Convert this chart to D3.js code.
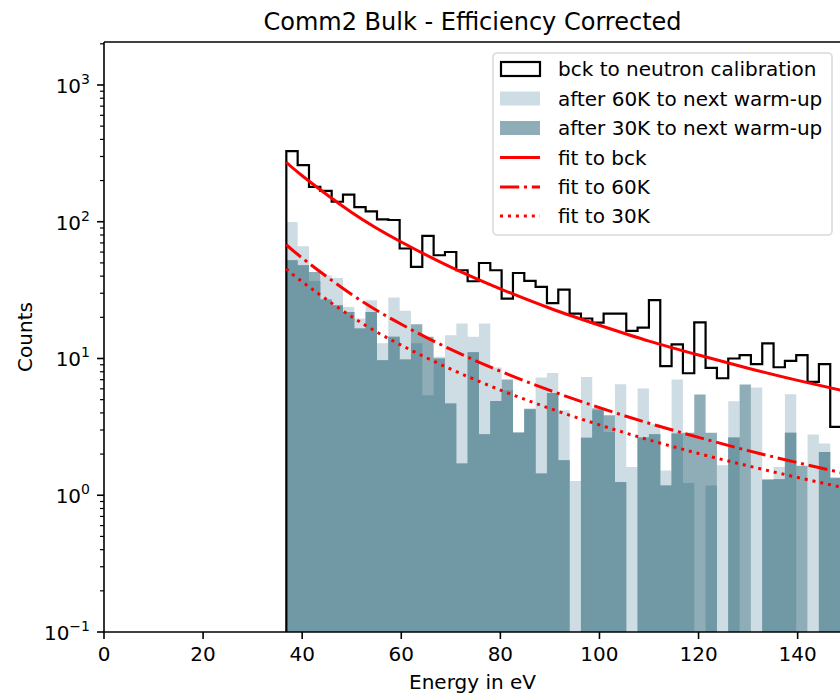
<!DOCTYPE html>
<html><head><meta charset="utf-8">
<script src="https://cdn.jsdelivr.net/npm/d3@7"></script>
<style>body{margin:0;background:#fff} text{font-family:"DejaVu Sans",sans-serif;fill:#000}</style>
</head><body><svg id="c" width="840" height="693"></svg>
<script>
// ---- data ----
const binStart = 36.8, binWidth = 2.287;
const bck = [328,259,180,168,140,158,128,119,104,103, 63.7,46.7,78.7,56.9,60.1,44.2,36.7,49.9,44.2,27.4,
  42.2,36.9,33.4,25.4,31.9,21.3,19.6,18.3,21.3,21.3, 15.9,16.8,26.7,8.78,12.7,7.80,18.4,8.53,7.17,10.0,
  10.6,9.08,12.9,8.63,9.60,10.6,6.74,9.08,3.16];
const v60 = [99.7,66.2,36.9,40.6,38.8,23.8,19.6,26.7,12.9,27.9, 22.3,12.9,5.39,10.3,14.8,18.0,14.4,18.0,8.59,5.86,
  2.85,4.33,7.26,7.84,4.18,1.27,7.33,4.18,2.90,6.48, 1.61,6.03,3.31,1.52,7.02,1.23,0,1.18,1.66,4.87,
  0,6.13,1.31,1.61,5.48,0,2.78,2.39,1.36];
const v30 = [52.3,48.1,42.9,27.0,24.5,21.9,16.6,21.9,9.71,14.4, 9.82,17.8,14.4,10.0,4.68,1.71,11.1,2.79,4.89,7.02,
  2.89,4.25,1.44,5.60,1.80,0,2.63,4.33,3.85,1.25, 0,2.64,2.79,1.18,2.83,2.87,5.45,2.87,0,2.64,
  6.45,0,1.30,1.31,2.87,1.64,0,2.07,1.33];
const fitE   = [36.8,40,50,60,70,80,90,100,110,120,130,140,150];
const fitBck = [272,217,117,71.1,46.6,32.3,23.3,17.5,13.4,10.6,8.49,6.92,5.72];
const fit60  = [68.0,54.3,29.4,17.8,11.65,8.07,5.84,4.37,3.36,2.65,2.12,1.73,1.43];
const fit30  = [45.2,36.4,20.2,12.5,8.36,5.88,4.31,3.27,2.54,2.02,1.64,1.35,1.12];
const xTicks = [0,20,40,60,80,100,120,140];
const yTicks = [0.1,1,10,100,1000];
const yTickExp = ["\u22121","0","1","2","3"];
const labels = ["bck to neutron calibration","after 60K to next warm-up","after 30K to next warm-up","fit to bck","fit to 60K","fit to 30K"];

// ---- layout ----
const m = {l:104, t:42, r:841, b:632};
const x = d3.scaleLinear().domain([0,148.75]).range([m.l,m.r]);
const y = d3.scaleLog().domain([0.1,2062]).range([m.b,m.t]);
const cLight="#cddde3", cMid="#8fadb6", cDark="#7099a5", red="#ff0000";

const svg = d3.select("#c");
svg.append("rect").attr("width",840).attr("height",693).attr("fill","#fff");
svg.append("clipPath").attr("id","pc").append("rect")
  .attr("x",m.l).attr("y",m.t).attr("width",m.r-m.l).attr("height",m.b-m.t);
const g = svg.append("g").attr("clip-path","url(#pc)");

const n = bck.length;
const edges = d3.range(n+1).map(i=>binStart+i*binWidth);
function pts(vals){ const p = vals.map((v,i)=>({e:edges[i],v})); p.push({e:edges[n],v:vals[n-1]}); return p; }
const yb = v => v>0 ? y(v) : m.b;
const area = d3.area().curve(d3.curveStepAfter).x(d=>x(d.e)).y0(m.b).y1(d=>yb(d.v));

g.append("path").attr("d",area(pts(v60))).attr("fill",cLight);
g.append("path").attr("d",area(pts(v30))).attr("fill",cMid);
const vmin = v60.map((a,i)=>Math.min(a,v30[i]));
g.append("path").attr("d",area(pts(vmin))).attr("fill",cDark);

// step outline
const sp = [{e:edges[0],v:0}].concat(pts(bck)).concat([{e:edges[n],v:0}]);
const stepLine = d3.line().curve(d3.curveStepAfter).x(d=>x(d.e)).y(d=>yb(d.v));
g.append("path").attr("d",stepLine(sp)).attr("fill","none").attr("stroke","#000").attr("stroke-width",2.2);

// fits
const fl = d3.line().curve(d3.curveNatural).x((d,i)=>x(fitE[i])).y(d=>y(d));
g.append("path").attr("d",fl(fitBck)).attr("fill","none").attr("stroke",red).attr("stroke-width",3);
g.append("path").attr("d",fl(fit60)).attr("fill","none").attr("stroke",red).attr("stroke-width",3).attr("stroke-dasharray","19.2,4.8,3,4.8");
g.append("path").attr("d",fl(fit30)).attr("fill","none").attr("stroke",red).attr("stroke-width",3).attr("stroke-dasharray","3,4.95");

// axes
const ax = svg.append("g");
ax.append("line").attr("x1",m.l).attr("x2",m.l).attr("y1",m.t).attr("y2",m.b).attr("stroke","#000").attr("stroke-width",1.6);
ax.append("line").attr("x1",m.l).attr("x2",m.r).attr("y1",m.b).attr("y2",m.b).attr("stroke","#000").attr("stroke-width",1.6);
ax.append("line").attr("x1",m.l).attr("x2",m.r).attr("y1",m.t).attr("y2",m.t).attr("stroke","#000").attr("stroke-width",1.6);
ax.append("line").attr("x1",m.r).attr("x2",m.r).attr("y1",m.t).attr("y2",m.b).attr("stroke","#000").attr("stroke-width",1.6);

xTicks.forEach(t=>{
  ax.append("line").attr("x1",x(t)).attr("x2",x(t)).attr("y1",m.b).attr("y2",m.b+7).attr("stroke","#000").attr("stroke-width",1.6);
  ax.append("text").attr("x",x(t)).attr("y",661).attr("text-anchor","middle").attr("font-size",20).text(t);
});
const minors=[];
[0.1,1,10,100,1000].forEach(d=>{for(let k=2;k<=9;k++){const v=d*k; if(v<2062) minors.push(v);}});
minors.forEach(v=>{
  ax.append("line").attr("x1",m.l-4).attr("x2",m.l).attr("y1",y(v)).attr("y2",y(v)).attr("stroke","#000").attr("stroke-width",1.2);
});
yTicks.forEach((t,i)=>{
  ax.append("line").attr("x1",m.l-7).attr("x2",m.l).attr("y1",y(t)).attr("y2",y(t)).attr("stroke","#000").attr("stroke-width",1.6);
  const tx = ax.append("text").attr("x",90).attr("y",y(t)+8).attr("text-anchor","end").attr("font-size",20);
  tx.append("tspan").text("10");
  tx.append("tspan").attr("dy",-9).attr("font-size",14).text(yTickExp[i]);
});
svg.append("text").attr("x",(m.l+m.r)/2).attr("y",689).attr("text-anchor","middle").attr("font-size",20).text("Energy in eV");
svg.append("text").attr("transform",`translate(32,${(m.t+m.b)/2}) rotate(-90)`).attr("text-anchor","middle").attr("font-size",20).text("Counts");
svg.append("text").attr("x",(m.l+m.r)/2).attr("y",30).attr("text-anchor","middle").attr("font-size",24).text("Comm2 Bulk - Efficiency Corrected");

// legend
const lg = svg.append("g");
lg.append("rect").attr("x",493).attr("y",53).attr("width",339).attr("height",182).attr("rx",4)
  .attr("fill","#fff").attr("fill-opacity",0.8).attr("stroke","#dadada").attr("stroke-width",1.6);
const rows = [69,98.5,128,157.5,187,216];
lg.append("rect").attr("x",501).attr("y",rows[0]-7).attr("width",39).attr("height",14).attr("fill","#fff").attr("stroke","#000").attr("stroke-width",2.2);
lg.append("rect").attr("x",500).attr("y",rows[1]-7).attr("width",40).attr("height",14).attr("fill",cLight);
lg.append("rect").attr("x",500).attr("y",rows[2]-7).attr("width",40).attr("height",14).attr("fill",cMid);
const dashes = [null,"19.2,4.8,3,4.8","3,4.95"];
[3,4,5].forEach((r,k)=>{
  const l = lg.append("line").attr("x1",500).attr("x2",540).attr("y1",rows[r]).attr("y2",rows[r]).attr("stroke",red).attr("stroke-width",3);
  if(dashes[k]) l.attr("stroke-dasharray",dashes[k]);
});
labels.forEach((s,i)=>{
  lg.append("text").attr("x",558).attr("y",rows[i]+7).attr("font-size",20).text(s);
});
</script></body></html>
